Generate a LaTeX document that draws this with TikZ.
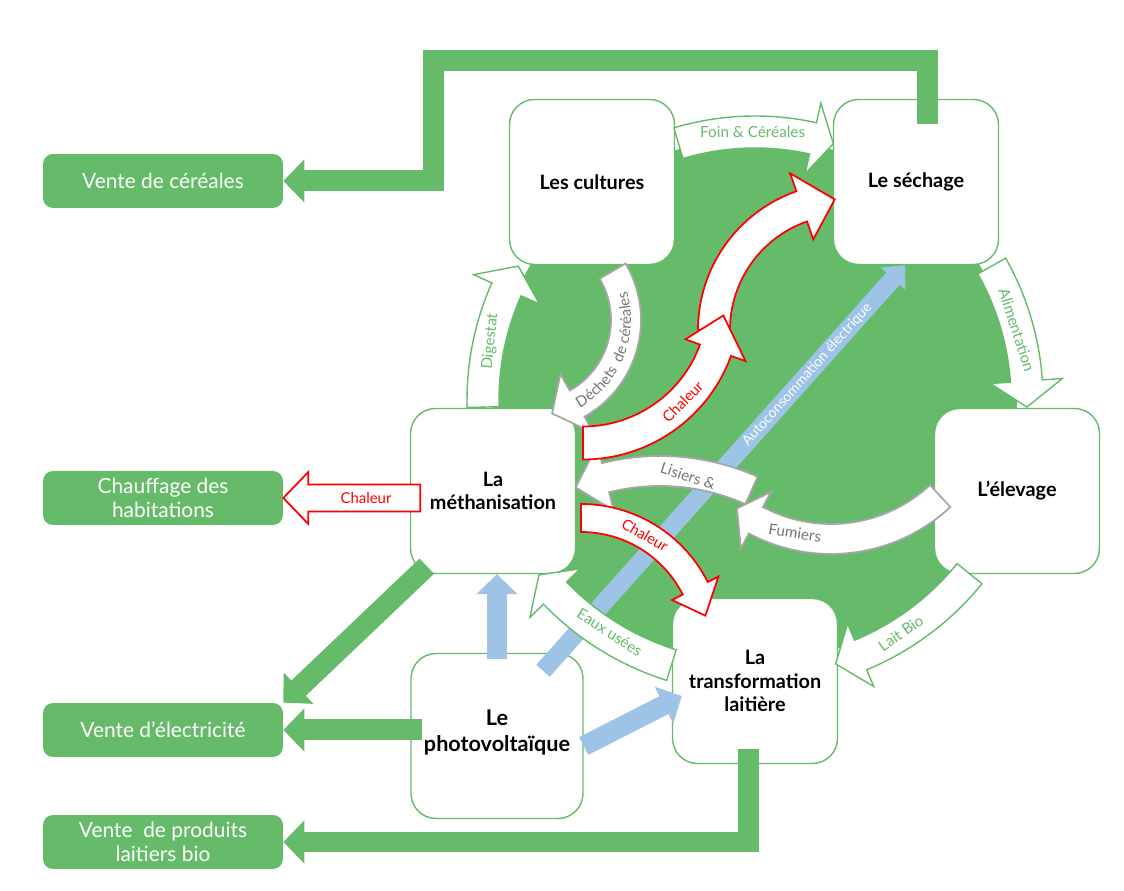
\documentclass[tikz,border=0pt]{standalone}
\usepackage{fontspec}
\setmainfont{Lato}
\usetikzlibrary{arrows.meta,positioning,calc,decorations.text}

\definecolor{vert}{RGB}{102,187,106}
\definecolor{bleu}{RGB}{157,195,230}
\definecolor{gris}{RGB}{166,166,166}
\definecolor{grisfonce}{RGB}{118,118,118}

% curved block arrow: style, centre, radius, half width, start angle, head base angle, tip angle, head half width
\newcommand\blockarc[8]{%
  \pgfmathsetmacro\arcOut{#3+#4}%
  \pgfmathsetmacro\arcIn{#3-#4}%
  \pgfmathsetmacro\headOut{#3+#8}%
  \pgfmathsetmacro\headIn{#3-#8}%
  \draw[#1] ([shift={(#5:\arcOut)}]#2) arc[start angle=#5, end angle=#6, radius=\arcOut]
    -- ([shift={(#6:\headOut)}]#2) -- ([shift={(#7:#3)}]#2) -- ([shift={(#6:\headIn)}]#2)
    -- ([shift={(#6:\arcIn)}]#2) arc[start angle=#6, end angle=#5, radius=\arcIn] -- cycle;
}

\tikzset{
  pole/.style={rectangle, rounded corners=0.5cm, draw=vert, line width=0.8pt, fill=white,
    minimum width=3.3cm, minimum height=3.3cm, align=center,
    font=\bfseries\fontsize{11.3}{13.2}\selectfont},
  vente/.style={rectangle, rounded corners=0.2cm, fill=vert, text=white,
    minimum width=4.8cm, minimum height=1.08cm, align=center,
    font=\fontsize{11.9}{13.6}\selectfont},
  greenflow/.style={draw=vert, line width=0.42cm, -{Triangle[width=0.84cm,length=0.42cm]}},
  blueflow/.style={draw=bleu, line width=0.4cm, -{Triangle[width=0.8cm,length=0.4cm]}},
  cycgreen/.style={draw=vert, fill=white, line width=0.8pt},
  cycgray/.style={draw=gris, fill=white, line width=1pt},
  cycred/.style={draw=red, fill=white, line width=1pt},
  lblgreen/.style={text=vert, font=\fontsize{8.7}{10}\selectfont},
  lblgray/.style={text=grisfonce, font=\fontsize{8.7}{10}\selectfont},
  lblred/.style={text=red, font=\fontsize{8.5}{10}\selectfont}
}

\begin{document}
\begin{tikzpicture}[x=0.02cm, y=0.02cm]
\useasboundingbox (0,0) rectangle (1124,891);

% cycle background
\coordinate (cC) at (755,491);
\fill[vert] (cC) circle[radius=262];

% the farm units
\node[pole] (cultures) at (592,709) {Les cultures};
\node[pole] (sechage) at (916,709) {Le séchage};
\node[pole] (elevage) at (1017,400) {L’élevage};
\node[pole] (metha) at (493,400) {La\\méthanisation};
\node[pole] (transfo) at (755,210) {La\\transformation\\laitière};
\node[pole, minimum width=3.44cm, font=\bfseries\fontsize{12.3}{14.5}\selectfont] (pv) at (497,155) {Le\\photovoltaïque\\[-0.3cm]};

% outlets
\node[vente] (cer) at (163,710) {Vente de céréales};
\node[vente] (chauf) at (163,393) {Chauffage des\\habitations};
\node[vente] (elec) at (163,161) {Vente d’électricité};
\node[vente] (lait) at (163,49) {Vente\ \ de produits\\laitiers bio};

% own electricity
\draw[blueflow, line width=0.36cm, -{Triangle[width=0.64cm,length=0.36cm]}]
  ([shift={(0.92cm,-0.36cm)}]pv.north) -- node[pos=0.73, sloped, text=white,
  font=\fontsize{8}{9}\selectfont] (tauto) {Autoconsommation électrique} ([xshift=-0.22cm]sechage.south);

% flows round the cycle
\blockarc{cycgreen}{cC}{268}{16}{106.6}{77.5}{73}{36}
\blockarc{cycgreen}{cC}{272}{16}{29.5}{4}{-1.5}{36}
\blockarc{cycgreen}{cC}{276}{16}{-39}{-67.5}{-73}{34}
\blockarc{cycgreen}{cC}{278}{16}{-107.5}{-136}{-141}{35}
\blockarc{cycgreen}{cC}{272}{16}{181.5}{156}{150.5}{36}

% residues
\coordinate (cD) at (530,571);
\blockarc{cycgray}{cD}{96}{15}{30.6}{-60.6}{-76.7}{34}
\coordinate (cL) at (660,195);
\coordinate (cF) at (831,512);
\blockarc{cycgray}{cL}{225}{15}{66}{104}{112}{34}
\blockarc{cycgray}{cF}{160}{15}{-47}{-118}{-126}{32}

% heat
\coordinate (cRa) at (583,589);
\coordinate (cRb) at (845,561);
\coordinate (cRc) at (581,245);
\blockarc{cycred}{cRb}{131}{16}{180}{109.3}{94.5}{35}
\blockarc{cycred}{cRa}{141}{16.5}{-90}{-20}{-5.5}{32}
\blockarc{cycred}{cRc}{128}{14}{90}{26.8}{13.7}{26}
\draw[cycred] (chauf.east) -- ++(25,26) -- ++(0,-12.5) -- ++(112,0) -- ++(0,-27)
  -- ++(-112,0) -- ++(0,-12.5) -- cycle;

% solar
\draw[blueflow] ([yshift=-0.12cm]pv.north) -- (pv.north |- metha.south);
\draw[blueflow] ([yshift=-0.2cm]pv.east) -- ([shift={(0.2cm,-0.3cm)}]transfo.west);

% sales
\coordinate (cA) at (433,830);
\draw[greenflow] ([xshift=0.22cm,yshift=-0.5cm]sechage.north) |- (cA) |- (cer.east);
\draw[greenflow] ([shift={(0.34cm,0.16cm)}]metha.south west) -- (elec.north east);
\draw[greenflow] ([xshift=0.24cm]pv.west |- elec.east) -- (elec.east);
\draw[greenflow] ([xshift=-0.14cm,yshift=0.3cm]transfo.south) |- (lait.east);

% arrow labels
\node[lblgreen] (tfoin) at ([shift={(90.5:268)}]cC) {Foin \& Céréales};
\node[lblgreen, rotate=-72] (talim) at ([shift={(15:271)}]cC) {Alimentation};
\node[lblgreen, rotate=35] (tlait) at ([shift={(-58:275)}]cC) {Lait Bio};
\node[lblgreen, rotate=-33] (teaux) at ([shift={(-122:274)}]cC) {Eaux usées};
\node[lblgreen, rotate=84] (tdig) at ([shift={(167.5:271)}]cC) {Digestat};
\path[decorate, decoration={text along path, text align=center,
  text={|\color{grisfonce}\fontsize{8.5}{10}\selectfont|Déchets{ }{ }de céréales}}]
  ([shift={(-66:101)}]cD) arc[start angle=-66, end angle=22, radius=101];
\node[lblgray, rotate=-18] (tlis) at (688,415) {Lisiers \&};
\node[lblgray, rotate=-9] (tfum) at (795,358) {Fumiers};
\node[lblred, rotate=45] (tcha) at ([shift={(-45:141)}]cRa) {Chaleur};
\node[lblred, rotate=-30] (tchc) at ([shift={(60:128)}]cRc) {Chaleur};
\node[lblred] (tchb) at (366,393) {Chaleur};
\end{tikzpicture}
\end{document}
